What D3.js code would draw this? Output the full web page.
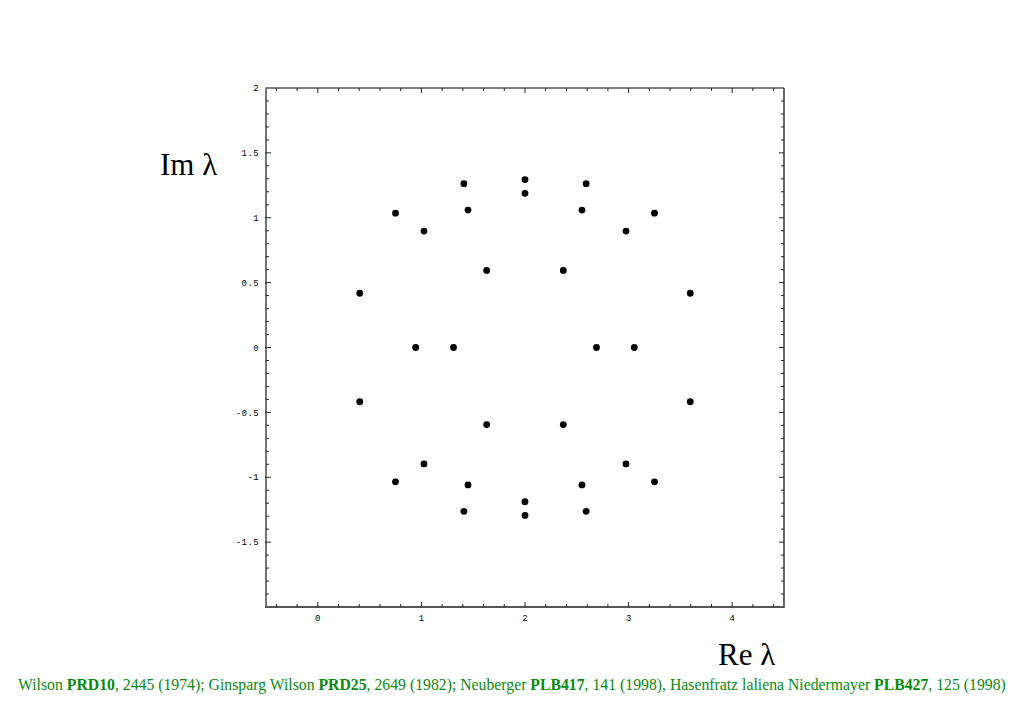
<!DOCTYPE html>
<html>
<head>
<meta charset="utf-8">
<script src="https://cdn.jsdelivr.net/npm/d3@7"></script>
<style>
html,body{margin:0;padding:0;background:#fff;}
svg{display:block;}
</style>
</head>
<body>
<script>
// Eigenvalues (real parts, imaginary parts)
const reValues = [0.75, 3.25, 1.025, 2.975, 1.41, 2.59, 1.45, 2.55, 2.0, 2.0, 0.405, 3.595, 1.63, 2.37, 0.945, 1.31, 2.69, 3.055,
                  0.75, 3.25, 1.025, 2.975, 1.41, 2.59, 1.45, 2.55, 2.0, 2.0, 0.405, 3.595, 1.63, 2.37];
const imValues = [1.035, 1.035, 0.897, 0.897, 1.263, 1.263, 1.059, 1.059, 1.294, 1.188, 0.418, 0.418, 0.594, 0.594, 0, 0, 0, 0,
                  -1.035, -1.035, -0.897, -0.897, -1.263, -1.263, -1.059, -1.059, -1.294, -1.188, -0.418, -0.418, -0.594, -0.594];
const xTickValues = [0, 1, 2, 3, 4];
const yTickValues = [-1.5, -1, -0.5, 0, 0.5, 1, 1.5, 2];
const xLabel = "Re λ";
const yLabel = "Im λ";
const citation = [
  {t:"Wilson ", b:false},{t:"PRD10", b:true},{t:", 2445 (1974); Ginsparg Wilson ", b:false},{t:"PRD25", b:true},
  {t:", 2649 (1982); Neuberger ", b:false},{t:"PLB417", b:true},{t:", 141 (1998), Hasenfratz laliena Niedermayer ", b:false},
  {t:"PLB427", b:true},{t:", 125 (1998)", b:false}
];

const W = 1023, H = 708;
const L = 266, R = 784, T = 88, B = 607;
const svg = d3.select("body").append("svg").attr("width", W).attr("height", H);

const x = d3.scaleLinear().domain([-0.5, 4.5]).range([L, R]);
const y = d3.scaleLinear().domain([-2, 2]).range([B, T]);

const xMinor = d3.range(-0.4, 4.5, 0.2).map(v => +v.toFixed(2));
const yMinor = d3.range(-1.9, 2.0, 0.1).map(v => +v.toFixed(2));
const isMajor = (v, step) => Math.abs(v / step - Math.round(v / step)) < 1e-6;

const g = svg.append("g");

// frame: top & right black, left & bottom gray
g.append("line").attr("x1", L).attr("x2", R).attr("y1", T).attr("y2", T).attr("stroke", "#000").attr("stroke-width", 1.2);
g.append("line").attr("x1", R).attr("x2", R).attr("y1", T).attr("y2", B).attr("stroke", "#000").attr("stroke-width", 1.2);
g.append("line").attr("x1", L).attr("x2", L).attr("y1", T - 0.6).attr("y2", B + 1).attr("stroke", "#666").attr("stroke-width", 1.8);
g.append("line").attr("x1", L - 1).attr("x2", R + 0.6).attr("y1", B).attr("y2", B).attr("stroke", "#555").attr("stroke-width", 1.8);

// ticks
xMinor.forEach(v => {
  const maj = isMajor(v, 1);
  const len = maj ? 5 : 3;
  g.append("line").attr("x1", x(v)).attr("x2", x(v)).attr("y1", B).attr("y2", B - len).attr("stroke", "#222").attr("stroke-width", 1);
  g.append("line").attr("x1", x(v)).attr("x2", x(v)).attr("y1", T).attr("y2", T + len).attr("stroke", "#222").attr("stroke-width", 1);
});
yMinor.forEach(v => {
  const maj = isMajor(v, 0.5);
  const len = maj ? 5 : 3;
  g.append("line").attr("x1", L - (maj ? 1 : 0)).attr("x2", L + len).attr("y1", y(v)).attr("y2", y(v)).attr("stroke", "#222").attr("stroke-width", 1);
  g.append("line").attr("x1", R).attr("x2", R - len).attr("y1", y(v)).attr("y2", y(v)).attr("stroke", "#222").attr("stroke-width", 1);
});

const tickFont = "'Liberation Mono','Courier New',monospace";
const fmt = v => String(v);
g.selectAll("text.yt").data(yTickValues).enter().append("text")
  .attr("x", L - 7).attr("y", d => y(d)).attr("dy", "0.35em")
  .attr("text-anchor", "end").attr("font-family", tickFont).attr("font-size", 9)
  .attr("letter-spacing", 0.4).attr("fill", "#000").text(fmt);
g.selectAll("text.xt").data(xTickValues).enter().append("text")
  .attr("x", d => x(d)).attr("y", 621)
  .attr("text-anchor", "middle").attr("font-family", tickFont).attr("font-size", 9)
  .attr("fill", "#000").text(fmt);

// points
g.selectAll("circle").data(reValues.map((r, i) => [r, imValues[i]])).enter().append("circle")
  .attr("cx", d => x(d[0])).attr("cy", d => y(d[1])).attr("r", 3.4).attr("fill", "#000");

// axis labels
svg.append("text").attr("x", 160).attr("y", 175).attr("font-family", "'Liberation Serif','Times New Roman',serif")
  .attr("font-size", 31).attr("fill", "#000").text(yLabel);
svg.append("text").attr("x", 718).attr("y", 665).attr("font-family", "'Liberation Serif','Times New Roman',serif")
  .attr("font-size", 31).attr("fill", "#000").text(xLabel);

// citation
const ct = svg.append("text").attr("x", 18).attr("y", 690)
  .attr("font-family", "'Liberation Serif','Times New Roman',serif").attr("font-size", 15.75).attr("fill", "#0a8a0a");
citation.forEach(s => ct.append("tspan").attr("font-weight", s.b ? "bold" : "normal").text(s.t));
</script>
</body>
</html>
